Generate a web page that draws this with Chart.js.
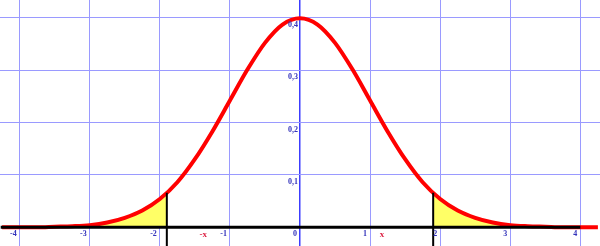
<!DOCTYPE html>
<html>
<head>
<meta charset="utf-8">
<script src="https://cdn.jsdelivr.net/npm/chart.js@4"></script>
<style>
body { margin: 0; background: #fff; }
#wrap { width: 600px; height: 246px; }
</style>
</head>
<body>
<div id="wrap"><canvas id="normalChart"></canvas></div>
<script>
// values (density curve)
var xs = [-4.25, -4, -3.75, -3.5, -3.25, -3, -2.75, -2.5, -2.25, -2, -1.75, -1.5, -1.25, -1, -0.75, -0.5, -0.25,
	0, 0.25, 0.5, 0.75, 1, 1.25, 1.5, 1.75, 2, 2.25, 2.5, 2.75, 3, 3.25, 3.5, 3.75, 4, 4.25];
var ys = [0.000, 0.000, 0.000, 0.001, 0.002, 0.004, 0.009, 0.018, 0.032, 0.054, 0.086, 0.130, 0.183, 0.242, 0.301, 0.352, 0.387,
	0.399, 0.387, 0.352, 0.301, 0.242, 0.183, 0.130, 0.086, 0.054, 0.032, 0.018, 0.009, 0.004, 0.002, 0.001, 0.000, 0.000, 0.000];

var cut = 1.9;
var cutY = 0.066;
var xTicks = [-4, -3, -2, -1, 0, 1, 2, 3, 4];
var yTicks = [0.1, 0.2, 0.3, 0.4];
var yTickLabels = ["0,1", "0,2", "0,3", "0,4"];

var color = {
	red: "#ff0000",
	yellow: "#ffff66",
	grid: "#9a9aff",
	axis: "#3c3cff",
	label: "#3333bb",
	labelRed: "#dd2244"
};

var curve = xs.map(function (x, i) { return { x: x, y: ys[i] }; });

var leftTail = [];
var rightTail = [];
for (var i = 0; i < xs.length; i++) {
	if (xs[i] < -cut) leftTail.push({ x: xs[i], y: ys[i] });
	if (xs[i] > cut) rightTail.push({ x: xs[i], y: ys[i] });
}
leftTail.push({ x: -cut, y: cutY });
rightTail.unshift({ x: cut, y: cutY });

var labelPlugin = {
	id: "labels",
	afterDraw: function (chart) {
		var ctx = chart.ctx;
		var sx = chart.scales.x;
		var sy = chart.scales.y;
		var x0 = sx.getPixelForValue(0);
		var y0 = sy.getPixelForValue(0);
		ctx.save();
		ctx.font = "bold 8px 'Liberation Serif'";
		ctx.fillStyle = color.label;
		ctx.textAlign = "right";
		ctx.textBaseline = "middle";
		xTicks.forEach(function (v) {
			ctx.fillText(String(v), sx.getPixelForValue(v) - 3, y0 + 7);
		});
		yTicks.forEach(function (v, i) {
			ctx.fillText(yTickLabels[i], x0 - 2, sy.getPixelForValue(v) + 7);
		});
		ctx.fillStyle = color.labelRed;
		ctx.textAlign = "center";
		ctx.font = "bold 9px 'Liberation Serif'";
		ctx.fillText("-x", sx.getPixelForValue(-1.38), y0 + 7);
		ctx.fillText("x", sx.getPixelForValue(1.17), y0 + 7);
		ctx.restore();
	}
};

new Chart(document.getElementById("normalChart"), {
	type: "line",
	data: {
		datasets: [
			{
				data: leftTail,
				borderWidth: 0,
				pointRadius: 0,
				backgroundColor: color.yellow,
				fill: "origin",
				tension: 0.4,
				order: 6
			},
			{
				data: rightTail,
				borderWidth: 0,
				pointRadius: 0,
				backgroundColor: color.yellow,
				fill: "origin",
				tension: 0.4,
				order: 6
			},
			{
				data: curve,
				borderColor: color.red,
				borderWidth: 4,
				pointRadius: 0,
				fill: false,
				cubicInterpolationMode: "monotone",
				order: 4
			},
			{
				data: [{ x: -4.27, y: 0 }, { x: 4, y: 0 }],
				borderColor: "#000",
				borderWidth: 3,
				pointRadius: 0,
				order: 3
			},
			{
				data: [{ x: -cut, y: cutY }, { x: -cut, y: -0.05 }],
				borderColor: "#000",
				borderWidth: 2,
				pointRadius: 0,
				order: 2
			},
			{
				data: [{ x: cut, y: cutY }, { x: cut, y: -0.05 }],
				borderColor: "#000",
				borderWidth: 2,
				pointRadius: 0,
				order: 2
			}
		]
	},
	options: {
		responsive: true,
		maintainAspectRatio: false,
		animation: false,
		layout: { padding: 0 },
		plugins: {
			legend: { display: false },
			tooltip: { enabled: false }
		},
		scales: {
			x: {
				type: "linear",
				min: -4.28,
				max: 4.28,
				afterBuildTicks: function (scale) {
					scale.ticks = xTicks.map(function (v) { return { value: v }; });
				},
				ticks: { display: false },
				border: { display: false },
				grid: {
					drawTicks: false,
					lineWidth: function (c) { return c.tick && c.tick.value === 0 ? 1.5 : 1; },
					color: function (c) { return c.tick && c.tick.value === 0 ? color.axis : color.grid; }
				}
			},
			y: {
				type: "linear",
				min: -0.0357,
				max: 0.4338,
				afterBuildTicks: function (scale) {
					scale.ticks = yTicks.map(function (v) { return { value: v }; });
				},
				ticks: { display: false },
				border: { display: false },
				grid: { drawTicks: false, color: color.grid }
			}
		}
	},
	plugins: [labelPlugin]
});
</script>
</body>
</html>
